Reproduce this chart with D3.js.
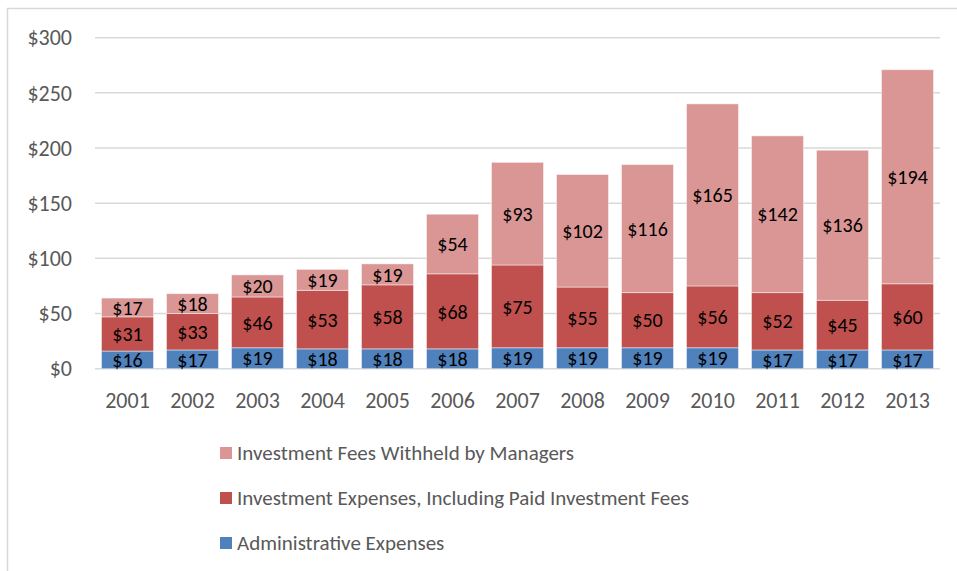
<!DOCTYPE html>
<html>
<head>
<meta charset="utf-8">
<script src="https://cdn.jsdelivr.net/npm/d3@7"></script>
<style>
  body { margin: 0; background: #fff; }
  svg text { font-family: Carlito, Lato, "Open Sans", sans-serif; }
</style>
</head>
<body>
<div id="chart"></div>
<script>
// data ($ millions)
var years = ["2001","2002","2003","2004","2005","2006","2007","2008","2009","2010","2011","2012","2013"];
var adminExp = [16,17,19,18,18,18,19,19,19,19,17,17,17];
var investExp = [31,33,46,53,58,68,75,55,50,56,52,45,60];
var feesWithheld = [17,18,20,19,19,54,93,102,116,165,142,136,194];
var yTicks = [0,50,100,150,200,250,300];
var seriesNames = ["Administrative Expenses", "Investment Expenses, Including Paid Investment Fees", "Investment Fees Withheld by Managers"];
var seriesColors = ["#4F81BD", "#C0504D", "#D99694"];

var width = 957, height = 571;
var plot = {left: 95, right: 940, top: 37.7, bottom: 368.7};

var svg = d3.select("#chart").append("svg")
    .attr("width", width)
    .attr("height", height);

// chart frame (only top + left edges show in the picture)
svg.append("path")
    .attr("d", "M7.5," + height + "V8.5H" + width)
    .attr("fill", "none")
    .attr("stroke", "#d9d9d9")
    .attr("stroke-width", 1.5);

var x = d3.scaleBand()
    .domain(years)
    .range([plot.left, plot.right])
    .paddingInner(0.2)
    .paddingOuter(0.1);

var y = d3.scaleLinear()
    .domain([0, 300])
    .range([plot.bottom, plot.top]);

// gridlines
svg.append("g")
    .selectAll("line")
    .data(yTicks)
    .join("line")
    .attr("x1", plot.left)
    .attr("x2", plot.right)
    .attr("y1", d => y(d))
    .attr("y2", d => y(d))
    .attr("stroke", "#d9d9d9")
    .attr("stroke-width", 1.5);

// y tick labels
svg.append("g")
    .selectAll("text")
    .data(yTicks)
    .join("text")
    .attr("x", 72)
    .attr("y", d => y(d))
    .attr("dy", "0.35em")
    .attr("text-anchor", "end")
    .attr("font-size", 22)
    .attr("fill", "#595959")
    .text(d => "$" + d);

// x labels
svg.append("g")
    .selectAll("text")
    .data(years)
    .join("text")
    .attr("x", d => x(d) + x.bandwidth() / 2)
    .attr("y", 400)
    .attr("dy", "0.35em")
    .attr("text-anchor", "middle")
    .attr("font-size", 22)
    .attr("fill", "#595959")
    .text(d => d);

// stack
var table = years.map((yr, i) => ({year: yr, a: adminExp[i], b: investExp[i], c: feesWithheld[i]}));
var stack = d3.stack().keys(["a", "b", "c"])(table);

var layers = svg.append("g")
    .selectAll("g")
    .data(stack)
    .join("g")
    .attr("fill", (d, i) => seriesColors[i]);

layers.selectAll("rect")
    .data(d => d)
    .join("rect")
    .attr("x", d => x(d.data.year))
    .attr("width", x.bandwidth())
    .attr("y", d => y(d[1]))
    .attr("height", d => y(d[0]) - y(d[1]))
    .attr("stroke", "rgba(255,255,255,0.45)")
    .attr("stroke-width", 1);

layers.selectAll("text")
    .data(d => d)
    .join("text")
    .attr("x", d => x(d.data.year) + x.bandwidth() / 2)
    .attr("y", d => y((d[0] + d[1]) / 2))
    .attr("dy", "0.36em")
    .attr("text-anchor", "middle")
    .attr("font-size", 20)
    .attr("fill", "#000")
    .text(d => "$" + (d[1] - d[0]));

// legend (vertical, top entry is the top series)
var legendItems = [2, 1, 0];
var legend = svg.append("g")
    .selectAll("g")
    .data(legendItems)
    .join("g")
    .attr("transform", (d, i) => "translate(220," + (453 + i * 45) + ")");

legend.append("rect")
    .attr("x", 0)
    .attr("y", -6)
    .attr("width", 12)
    .attr("height", 12)
    .attr("fill", d => seriesColors[d]);

legend.append("text")
    .attr("x", 17)
    .attr("y", 0)
    .attr("dy", "0.35em")
    .attr("font-size", 21)
    .attr("fill", "#595959")
    .text(d => seriesNames[d]);
</script>
</body>
</html>
